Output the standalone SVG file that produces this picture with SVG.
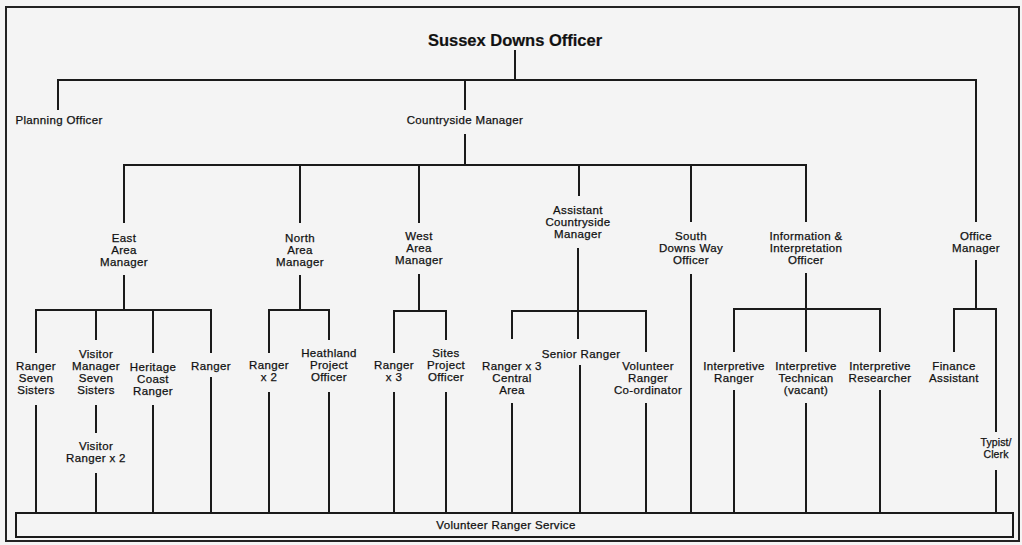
<svg xmlns="http://www.w3.org/2000/svg" width="1022" height="545" viewBox="0 0 1022 545">
<style>
.bg{fill:#f4f4f4}
.frame{fill:none;stroke:#222;stroke-width:2}
.c line{stroke:#1a1a1a;stroke-width:2}
text{font-family:"Liberation Sans",Arial,sans-serif;font-size:11.5px;fill:#111;stroke:#111;stroke-width:0.25;text-anchor:middle;letter-spacing:0.35px}
.title{font-size:16.5px;font-weight:bold;letter-spacing:0;stroke-width:0.2}
.sm{font-size:10.5px;letter-spacing:0.1px}
.bar{fill:#f4f4f4;stroke:#1a1a1a;stroke-width:2}
</style>
<rect class="bg" x="0" y="0" width="1022" height="545"/>
<rect class="frame" x="6" y="7" width="1013" height="534"/>
<g class="c" id="connectors">
<line x1="515" y1="50" x2="515" y2="80"/>
<line x1="57" y1="80" x2="977" y2="80"/>
<line x1="58" y1="80" x2="58" y2="110"/>
<line x1="465" y1="80" x2="465" y2="110"/>
<line x1="465" y1="134" x2="465" y2="165"/>
<line x1="123" y1="165" x2="807" y2="165"/>
<line x1="124" y1="165" x2="124" y2="223"/>
<line x1="300" y1="165" x2="300" y2="223"/>
<line x1="419" y1="165" x2="419" y2="223"/>
<line x1="579" y1="165" x2="579" y2="196"/>
<line x1="691" y1="165" x2="691" y2="222"/>
<line x1="806" y1="165" x2="806" y2="222"/>
<line x1="976" y1="80" x2="976" y2="222"/>
<line x1="124" y1="275" x2="124" y2="310"/>
<line x1="35" y1="310" x2="212" y2="310"/>
<line x1="36" y1="310" x2="36" y2="353"/>
<line x1="96" y1="310" x2="96" y2="340"/>
<line x1="153" y1="310" x2="153" y2="353"/>
<line x1="211" y1="310" x2="211" y2="353"/>
<line x1="300" y1="275" x2="300" y2="310"/>
<line x1="268" y1="310" x2="330" y2="310"/>
<line x1="269" y1="310" x2="269" y2="353"/>
<line x1="329" y1="310" x2="329" y2="340"/>
<line x1="419" y1="274" x2="419" y2="311"/>
<line x1="393" y1="311" x2="447" y2="311"/>
<line x1="394" y1="311" x2="394" y2="353"/>
<line x1="446" y1="311" x2="446" y2="340"/>
<line x1="578" y1="248" x2="578" y2="339"/>
<line x1="511" y1="311" x2="647" y2="311"/>
<line x1="512" y1="311" x2="512" y2="339"/>
<line x1="646" y1="311" x2="646" y2="352"/>
<line x1="691" y1="274" x2="691" y2="513"/>
<line x1="806" y1="273" x2="806" y2="309"/>
<line x1="733" y1="309" x2="881" y2="309"/>
<line x1="734" y1="309" x2="734" y2="352"/>
<line x1="806" y1="309" x2="806" y2="352"/>
<line x1="880" y1="309" x2="880" y2="352"/>
<line x1="976" y1="260" x2="976" y2="309"/>
<line x1="953" y1="309" x2="997" y2="309"/>
<line x1="954" y1="309" x2="954" y2="352"/>
<line x1="996" y1="309" x2="996" y2="432"/>
<line x1="996" y1="470" x2="996" y2="513"/>
<line x1="36" y1="405" x2="36" y2="513"/>
<line x1="96" y1="405" x2="96" y2="433"/>
<line x1="96" y1="473" x2="96" y2="513"/>
<line x1="153" y1="405" x2="153" y2="513"/>
<line x1="211" y1="377" x2="211" y2="513"/>
<line x1="269" y1="392" x2="269" y2="513"/>
<line x1="329" y1="392" x2="329" y2="513"/>
<line x1="394" y1="392" x2="394" y2="513"/>
<line x1="446" y1="392" x2="446" y2="513"/>
<line x1="512" y1="403" x2="512" y2="513"/>
<line x1="580" y1="365" x2="580" y2="513"/>
<line x1="646" y1="403" x2="646" y2="513"/>
<line x1="734" y1="390" x2="734" y2="513"/>
<line x1="806" y1="403" x2="806" y2="513"/>
<line x1="880" y1="390" x2="880" y2="513"/>
</g>
<g id="n-sdo"><text class="title" x="515" y="46">Sussex Downs Officer</text></g>
<g id="n-planning"><text x="59" y="124">Planning Officer</text></g>
<g id="n-cm"><text x="465" y="124">Countryside Manager</text></g>
<g id="n-east"><text x="124" y="242">East</text><text x="124" y="254">Area</text><text x="124" y="266">Manager</text></g>
<g id="n-north"><text x="300" y="242">North</text><text x="300" y="254">Area</text><text x="300" y="266">Manager</text></g>
<g id="n-west"><text x="419" y="240">West</text><text x="419" y="252">Area</text><text x="419" y="264">Manager</text></g>
<g id="n-acm"><text x="578" y="214">Assistant</text><text x="578" y="226">Countryside</text><text x="578" y="238">Manager</text></g>
<g id="n-sdw"><text x="691" y="240">South</text><text x="691" y="252">Downs Way</text><text x="691" y="264">Officer</text></g>
<g id="n-info"><text x="806" y="240">Information &amp;</text><text x="806" y="252">Interpretation</text><text x="806" y="264">Officer</text></g>
<g id="n-om"><text x="976" y="240">Office</text><text x="976" y="252">Manager</text></g>
<g id="n-rss"><text x="36" y="370">Ranger</text><text x="36" y="382">Seven</text><text x="36" y="394">Sisters</text></g>
<g id="n-vmss"><text x="96" y="358">Visitor</text><text x="96" y="370">Manager</text><text x="96" y="382">Seven</text><text x="96" y="394">Sisters</text></g>
<g id="n-vr2"><text x="96" y="450">Visitor</text><text x="96" y="462">Ranger x 2</text></g>
<g id="n-hcr"><text x="153" y="371">Heritage</text><text x="153" y="383">Coast</text><text x="153" y="395">Ranger</text></g>
<g id="n-ranger"><text x="211" y="370">Ranger</text></g>
<g id="n-rx2"><text x="269" y="369">Ranger</text><text x="269" y="381">x 2</text></g>
<g id="n-hpo"><text x="329" y="357">Heathland</text><text x="329" y="369">Project</text><text x="329" y="381">Officer</text></g>
<g id="n-rx3"><text x="394" y="369">Ranger</text><text x="394" y="381">x 3</text></g>
<g id="n-spo"><text x="446" y="357">Sites</text><text x="446" y="369">Project</text><text x="446" y="381">Officer</text></g>
<g id="n-rca"><text x="512" y="370">Ranger x 3</text><text x="512" y="382">Central</text><text x="512" y="394">Area</text></g>
<g id="n-sr"><text x="581" y="358">Senior Ranger</text></g>
<g id="n-vrc"><text x="648" y="370">Volunteer</text><text x="648" y="382">Ranger</text><text x="648" y="394">Co-ordinator</text></g>
<g id="n-ir"><text x="734" y="370">Interpretive</text><text x="734" y="382">Ranger</text></g>
<g id="n-it"><text x="806" y="370">Interpretive</text><text x="806" y="382">Technican</text><text x="806" y="394">(vacant)</text></g>
<g id="n-ires"><text x="880" y="370">Interpretive</text><text x="880" y="382">Researcher</text></g>
<g id="n-fa"><text x="954" y="370">Finance</text><text x="954" y="382">Assistant</text></g>
<g id="n-tc"><text class="sm" x="996" y="446">Typist/</text><text class="sm" x="996" y="458">Clerk</text></g>
<g id="n-vrs"><rect class="bar" x="16" y="513" width="997" height="24"/><text x="506" y="529">Volunteer Ranger Service</text></g>
</svg>
